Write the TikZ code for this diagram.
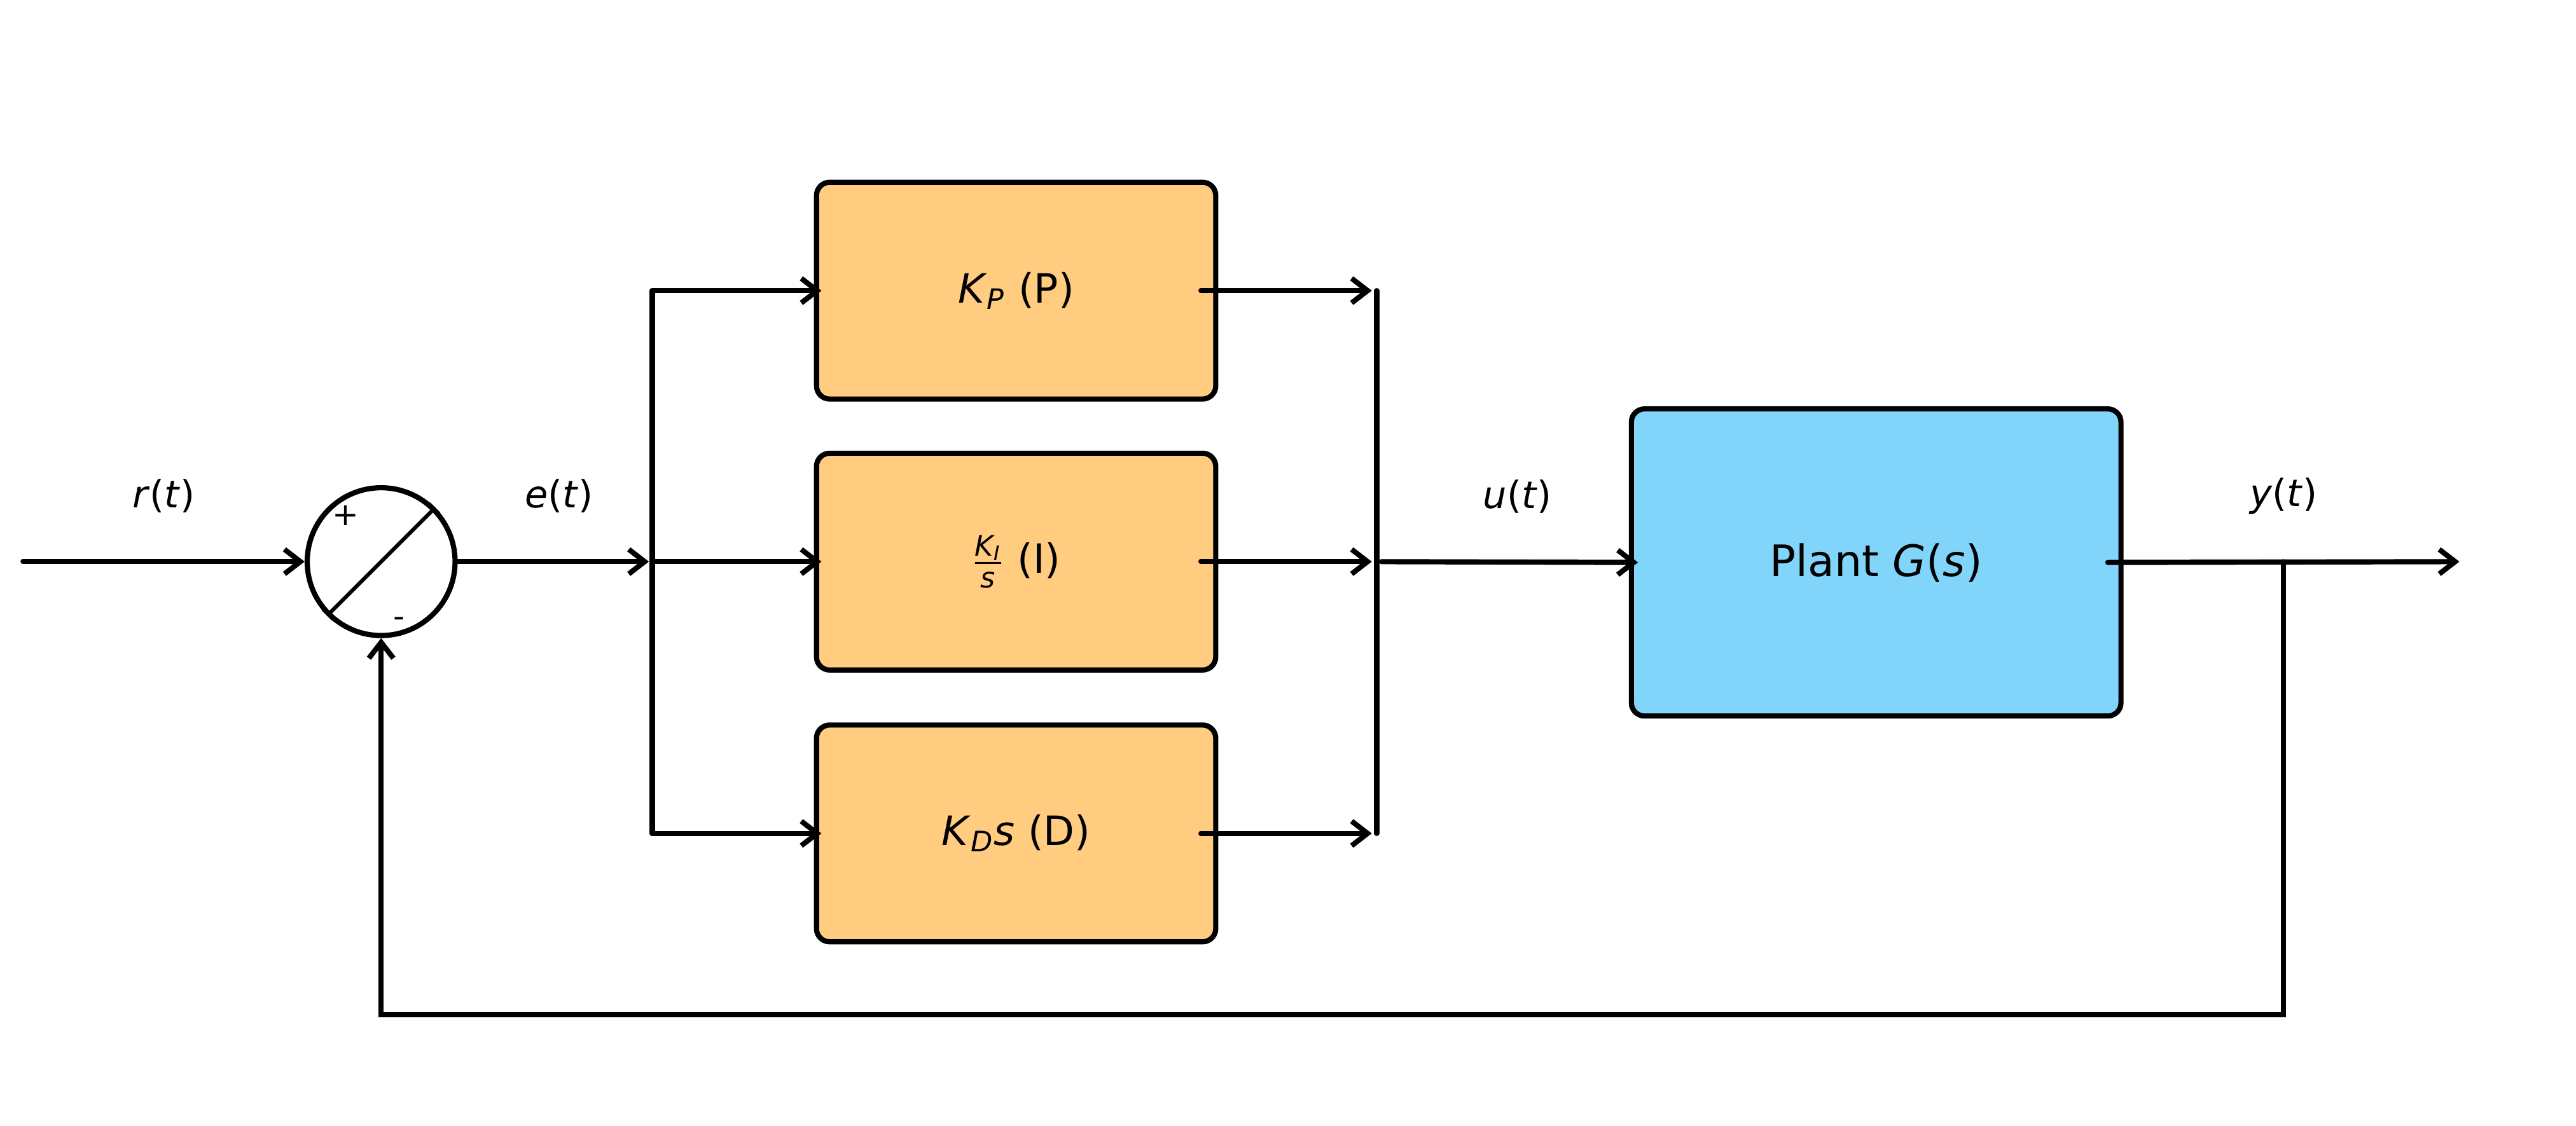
\documentclass[tikz,border=0pt]{standalone}
\usepackage{fontspec}
\usepackage{amsmath}
\setmainfont{DejaVu Sans}
\usetikzlibrary{arrows.meta,positioning}
\definecolor{gainfill}{HTML}{FFCC80}
\definecolor{plantfill}{HTML}{81D4FA}
\begin{document}
\begin{tikzpicture}[line width=1.8pt,line cap=round,
     >={Straight Barb[length=5.5pt,width=8.5pt]},
     gain/.style={draw,fill=gainfill,rounded corners=0.16cm,outer sep=0pt,minimum width=4.86cm,minimum height=2.64cm,font=\fontsize{14}{17}\selectfont},
     plantbox/.style={draw,fill=plantfill,rounded corners=0.16cm,outer sep=0pt,minimum width=5.96cm,minimum height=3.74cm,font=\fontsize{15}{18}\selectfont},
     sig/.style={font=\fontsize{13}{16}\selectfont,pos=0.53,yshift=0.8cm}]
  \useasboundingbox (0,-0.07) rectangle (31.36,13.64);
  \node[circle,draw,minimum size=1.8cm,inner sep=0pt] (sum) at (4.64,6.80) {};
  \path (0.28,6.80) coordinate (in) (7.94,6.80) coordinate (split) (16.76,6.80) coordinate (join)
     (27.80,6.80) coordinate (tap) (29.94,6.80) coordinate (out) (27.80,1.28) coordinate (ret);
  \node[gain] (P) at (12.37,10.10) {\textit{K}$_{\textit{P}}$ (P)};
  \node[gain] (I) at (12.37,6.80) {$\frac{\textit{K}_{\textit{I}}}{\textit{s}}$ (I)};
  \node[gain] (D) at (12.37,3.49) {\textit{K}$_{\textit{D}}$\textit{s} (D)};
  \node[plantbox] (plant) at (22.84,6.79) {Plant \textit{G}(\textit{s})};
  \draw[line width=1.3pt,{Bar[width=5pt]}-{Bar[width=5pt]}] (sum.225) -- (sum.45);
  \node[font=\fontsize{11}{13}\selectfont] at ([shift={(-0.43,0.56)}]sum.center) {+};
  \node[font=\fontsize{11}{13}\selectfont] at ([shift={(0.22,-0.74)}]sum.center) {-};
  \draw[->] (in) -- node[sig,pos=0.5] {\textit{r}(\textit{t})} (sum.west);
  \draw[->] (sum.east) -- node[sig] {\textit{e}(\textit{t})} ([xshift=-0.04cm]split);
  \draw (split |- P) -- (split |- D);
  \foreach \b in {P,I,D} \draw[->] (split |- \b) -- ([xshift=0.06cm]\b.west);
  \foreach \b in {P,I,D} \draw[->] ([xshift=-0.18cm]\b.east) -- ([xshift=-0.06cm]join |- \b);
  \draw (join |- P) -- (join |- D);
  \draw[->] ([xshift=0.06cm]join) -- node[sig] {\textit{u}(\textit{t})} ([xshift=0.08cm]plant.west);
  \draw[->] ([xshift=-0.16cm]plant.east) -- node[sig,pos=0.5] {\textit{y}(\textit{t})} (out);
  \draw[->] (tap) -- (ret) -| (sum.south);
\end{tikzpicture}
\end{document}
